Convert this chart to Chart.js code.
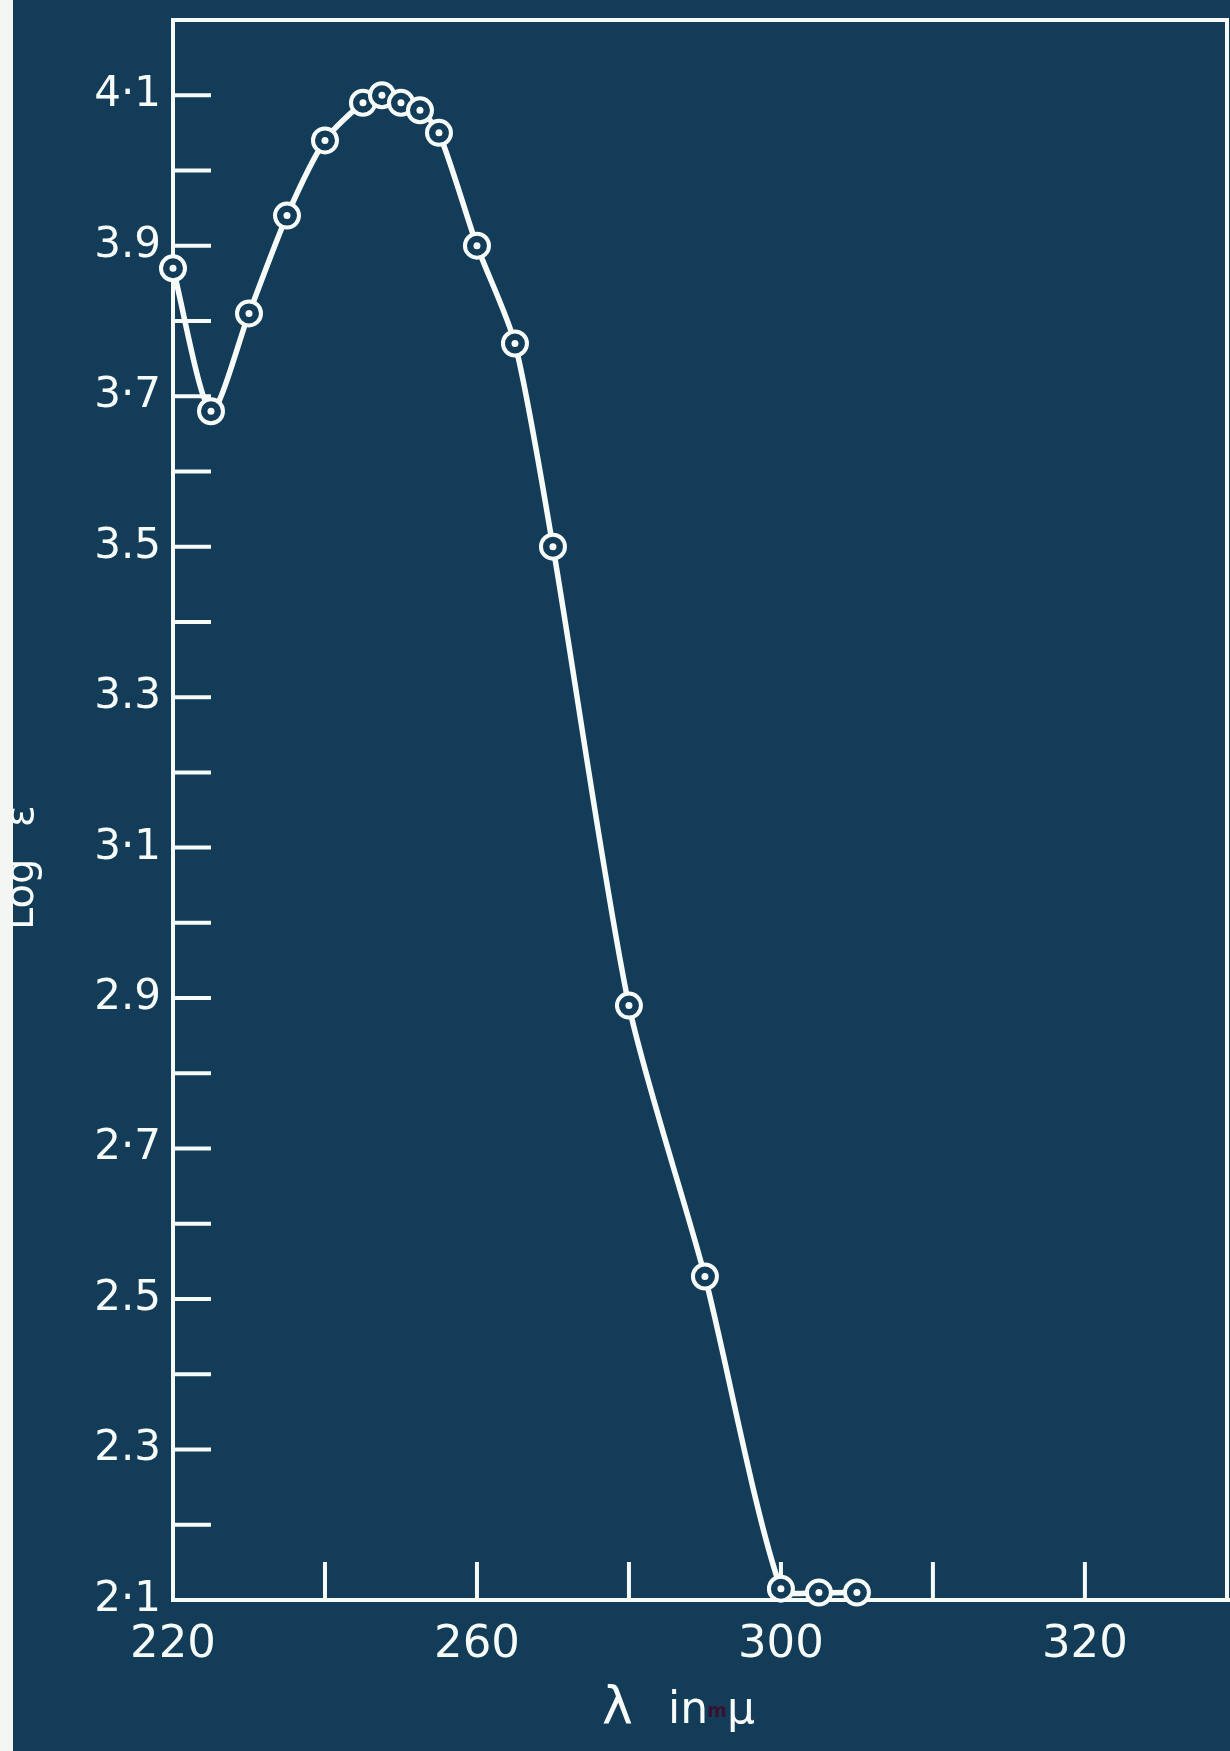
<!DOCTYPE html>
<html>
<head>
<meta charset="utf-8">
<script src="https://cdn.jsdelivr.net/npm/chart.js@4.4.1/dist/chart.umd.min.js"></script>
<style>
  html, body { margin: 0; padding: 0; background: #f4f6f4; }
  #wrap { position: absolute; left: 13px; top: 0; width: 1217px; height: 1751px; }
</style>
</head>
<body>
<div id="wrap"><canvas id="grafico" width="1217" height="1751"></canvas></div>
<script>
// wavelength (m\u03bc) and log epsilon
const comprimentos = [220, 225, 230, 235, 240, 245, 247.5, 250, 252.5, 255, 260, 265, 270, 280, 290, 300, 305, 310]
const logEps = [3.87, 3.68, 3.81, 3.94, 4.04, 4.09, 4.10, 4.09, 4.08, 4.05, 3.90, 3.77, 3.50, 2.89, 2.53, 2.115, 2.11, 2.11]

const xTicks = [220, 240, 260, 280, 300, 320, 340]
const xTickLabels = ['220', '', '260', '', '300', '', '320']
const yTicks = [2.1, 2.2, 2.3, 2.4, 2.5, 2.6, 2.7, 2.8, 2.9, 3.0, 3.1, 3.2, 3.3, 3.4, 3.5, 3.6, 3.7, 3.8, 3.9, 4.0, 4.1]
const yTickLabels = ['2\u00b71', '2.3', '2.5', '2\u00b77', '2.9', '3\u00b71', '3.3', '3.5', '3\u00b77', '3.9', '4\u00b71']

const fundo = '#123c58'
const branco = '#f7fbf8'

const pontos = comprimentos.map((x, i) => ({ x: x, y: logEps[i] }))

const fundoPlugin = {
    id: 'fundo',
    beforeDraw: (chart) => {
        const ctx = chart.ctx
        ctx.save()
        ctx.fillStyle = fundo
        ctx.fillRect(0, 0, chart.width, chart.height)
        ctx.restore()
    }
}

// ticks drawn inward from the axes, plus top and right frame
const marcasPlugin = {
    id: 'marcas',
    beforeDatasetsDraw: (chart) => {
        const { ctx, chartArea, scales } = chart
        ctx.save()
        ctx.strokeStyle = branco
        ctx.lineWidth = 4
        ctx.beginPath()
        scales.y.ticks.forEach((t, i) => {
            if (i === 0) return
            const py = scales.y.getPixelForValue(t.value)
            ctx.moveTo(chartArea.left, py)
            ctx.lineTo(chartArea.left + 38, py)
        })
        scales.x.ticks.forEach((t, i) => {
            if (i === 0) return
            const px = scales.x.getPixelForValue(t.value)
            ctx.moveTo(px, chartArea.bottom)
            ctx.lineTo(px, chartArea.bottom - 38)
        })
        ctx.moveTo(chartArea.left - 2, chartArea.top)
        ctx.lineTo(chartArea.right, chartArea.top)
        ctx.lineTo(chartArea.right, chartArea.bottom)
        ctx.moveTo(chartArea.right, chartArea.bottom)
        ctx.lineTo(chart.width, chartArea.bottom)
        ctx.stroke()
        ctx.restore()
    },
    afterDraw: (chart) => {
        const { ctx, chartArea } = chart
        ctx.save()
        ctx.fillStyle = branco
        ctx.textBaseline = 'alphabetic'
        // x axis title
        const bx = chartArea.left + 429
        const by = chartArea.bottom + 123
        ctx.textAlign = 'left'
        ctx.font = '52px "DejaVu Sans"'
        ctx.fillText('\u03bb', bx, by)
        ctx.font = '44px "DejaVu Sans"'
        ctx.fillText('in', bx + 66, by)
        ctx.fillText('\u03bc', bx + 125, by)
        ctx.fillStyle = '#3a1030'
        ctx.font = 'bold 19px "DejaVu Sans"'
        ctx.fillText('m', bx + 105, by - 6)
        // y axis title
        ctx.fillStyle = branco
        ctx.font = '40px "DejaVu Sans"'
        ctx.translate(20, 0)
        ctx.rotate(-Math.PI / 2)
        ctx.fillText('Log', -930, 0)
        ctx.fillText('\u03b5', -827, 0)
        ctx.restore()
    }
}

new Chart(document.getElementById('grafico'), {
    type: 'scatter',
    data: {
        datasets: [
            {
                data: pontos,
                order: 1,
                showLine: true,
                borderColor: branco,
                borderWidth: 5.5,
                tension: 0.25,
                pointRadius: 12,
                pointBorderWidth: 4,
                pointBorderColor: branco,
                pointBackgroundColor: fundo,
                clip: false
            },
            {
                data: pontos,
                order: 0,
                showLine: false,
                pointRadius: 3.5,
                pointBorderWidth: 0,
                pointBackgroundColor: branco,
                clip: false
            }
        ]
    },
    plugins: [fundoPlugin, marcasPlugin],
    options: {
        responsive: false,
        animation: false,
        devicePixelRatio: 1,
        events: [],
        layout: { autoPadding: false, padding: { left: 0, right: 3, top: 20, bottom: 0 } },
        plugins: {
            legend: { display: false },
            tooltip: { enabled: false },
            title: { display: false }
        },
        scales: {
            x: {
                type: 'linear',
                min: 220,
                max: 358.7,
                afterBuildTicks: (scale) => { scale.ticks = xTicks.map(v => ({ value: v })) },
                afterFit: (scale) => {
                    scale.height = 151
                    scale.paddingLeft = 0
                    scale.paddingRight = 0
                },
                grid: { drawOnChartArea: false, drawTicks: false },
                border: { color: branco, width: 4 },
                ticks: {
                    color: branco,
                    padding: 18,
                    maxRotation: 0,
                    autoSkip: false,
                    font: { family: 'DejaVu Sans', size: 45 },
                    callback: (v) => xTickLabels[xTicks.indexOf(v)]
                }
            },
            y: {
                type: 'linear',
                min: 2.1,
                max: 4.2,
                afterBuildTicks: (scale) => { scale.ticks = yTicks.map(v => ({ value: v })) },
                afterFit: (scale) => {
                    scale.width = 160
                    scale.paddingTop = 0
                    scale.paddingBottom = 0
                },
                grid: { drawOnChartArea: false, drawTicks: false },
                border: { color: branco, width: 4 },
                ticks: {
                    color: branco,
                    padding: 12,
                    autoSkip: false,
                    font: { family: 'DejaVu Sans', size: 42 },
                    callback: (v) => {
                        const k = Math.round(v * 10)
                        return (k % 2 === 1) ? yTickLabels[(k - 21) / 2] : ''
                    }
                }
            }
        }
    }
})
</script>
</body>
</html>
